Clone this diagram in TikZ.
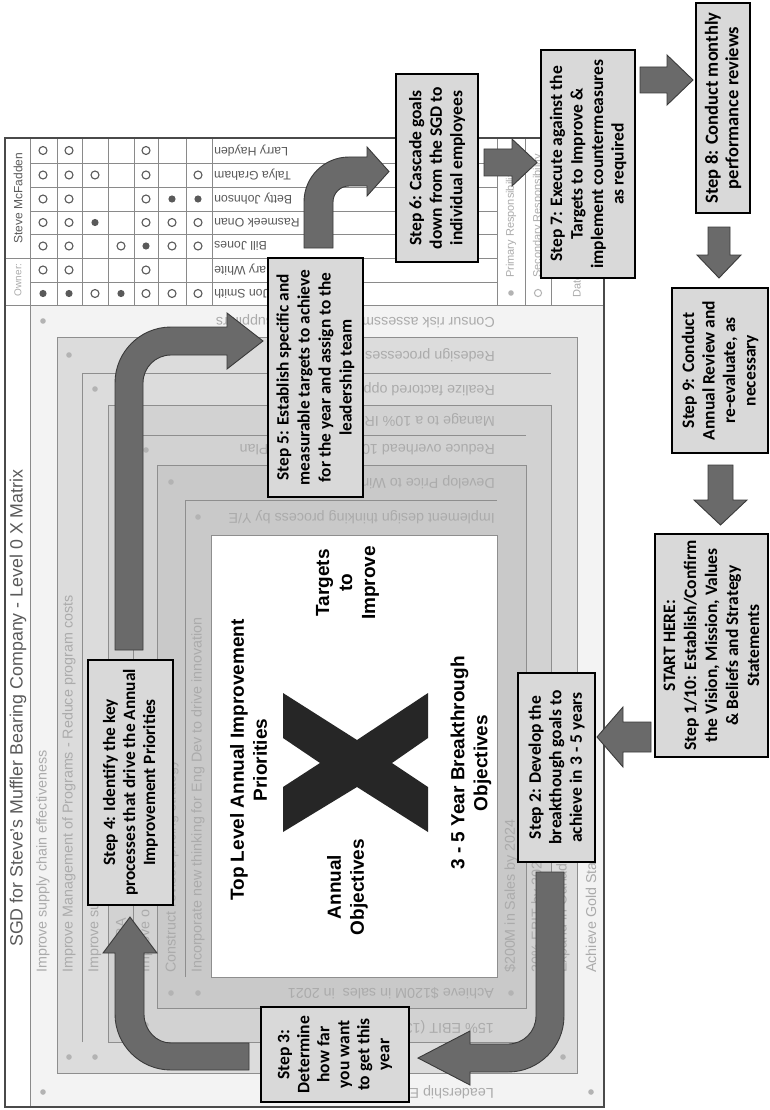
\documentclass[tikz,border=0pt]{standalone}
\usepackage{fontspec}
\setmainfont{Liberation Sans}
\newfontfamily\stepfont{Carlito}
\definecolor{bandO}{HTML}{F3F3F3}
\definecolor{bandA}{HTML}{DCDCDC}
\definecolor{bandB}{HTML}{D2D2D2}
\definecolor{bandC}{HTML}{C9C9C9}
\definecolor{bandline}{HTML}{8E8E8E}
\definecolor{gridline}{HTML}{8A8A8A}
\definecolor{framec}{HTML}{4A4A4A}
\definecolor{itemgray}{HTML}{ABABAB}
\definecolor{dotgray}{HTML}{B3B3B3}
\definecolor{namegray}{HTML}{5A5A5A}
\definecolor{stepfill}{HTML}{D9D9D9}
\definecolor{arrowfill}{HTML}{6A6A6A}
\definecolor{arrowline}{HTML}{3A3A3A}
\definecolor{xmark}{HTML}{262626}
\begin{document}
\begin{tikzpicture}[x=1pt,y=-1pt,
  stepbox/.style={draw=black, line width=1.5pt, fill=stepfill, rotate=90, align=center, inner sep=0pt,
    font=\stepfont\bfseries\fontsize{17.5}{20.5}\selectfont},
  blockarrow/.style={fill=arrowfill, draw=arrowline, line width=0.9pt, line join=miter},
  itemtext/.style={text=itemgray, inner sep=0pt, font=\fontsize{14.3}{16}\selectfont},
  upitem/.style={itemtext, rotate=90, anchor=west},
  flipitem/.style={itemtext, rotate=180, anchor=west},
  namelabel/.style={text=namegray, inner sep=0pt, rotate=180, anchor=east, font=\fontsize{12.3}{14}\selectfont},
  gdot/.style={fill=dotgray},
  opendot/.style={draw=namegray, line width=1.1pt, fill=white},
  fulldot/.style={fill=namegray},
  band/.style={draw=bandline, line width=0.8pt},
  sepline/.style={draw=bandline, line width=0.8pt},
  gridln/.style={draw=gridline, line width=0.8pt},
  centerlabel/.style={rotate=90, align=center, inner sep=0pt, font=\bfseries\fontsize{19}{23}\selectfont}
]
\useasboundingbox (0,0) rectangle (769,1110);
\fill[white] (0,0) rectangle (769,1110);

% ---------- nested bands of the X matrix ----------
\fill[bandO] (30,305) rectangle (604,1107);
\filldraw[band, fill=bandA] (57,337) rectangle (577,1073);
\filldraw[band, fill=bandB] (108,405) rectangle (551,1042);
\filldraw[band, fill=bandC] (157,465) rectangle (526,1008);
\filldraw[band, fill=white] (211,535) rectangle (497,977);
\draw[sepline] (82,1042) -- (82,373) -- (551,373);
\draw[sepline] (133,1008) -- (133,435) -- (526,435);
\draw[sepline] (185,977) -- (185,500) -- (497,500);

% bullets of the list rows
\foreach \x/\y in {43/321,69/355,95/389,121/420,146/450,171/482,198/517,
                   43/1092,69/1057,95/1057,121/1025,146/1025,171/993,198/993,
                   511/993,538/1025,563/1057,591/1092}
  \fill[gdot] (\x,\y) circle (2.8pt);

% left lists (annual improvement priorities)
\node[upitem] (l1) at (43,973) {Improve supply chain effectiveness};
\node[upitem] (l2) at (69,973) {Improve Management of Programs - Reduce program costs};
\node[upitem] (l3) at (95,973) {Improve su};
\node[itemtext, rotate=90, anchor=east] (l4) at (121,918) {IRA};
\node[upitem] (l5) at (146,973) {Improve o};
\node[upitem] (l6) at (172,973) {Construct revised pricing strategy};
\node[upitem] (l7) at (198,973) {Incorporate new thinking for Eng Dev to drive innovation};

% top lists (targets to improve)
\node[flipitem] (t1) at (495,321) {Consur risk assessment for critical suppliers};
\node[flipitem] (t2) at (495,355) {Redesign processes};
\node[flipitem] (t3) at (495,389) {Realize factored opportunities};
\node[flipitem] (t4) at (495,420) {Manage to a 10\% IRA};
\node[flipitem] (t5) at (495,450) {Reduce overhead 10\% to Financial Plan};
\node[flipitem] (t6) at (495,482) {Develop Price to Win};
\node[flipitem] (t7) at (495,517) {Implement design thinking process by Y/E};

% bottom lists (annual objectives)
\node[flipitem] (b1) at (494,993) {Achieve \$120M in sales\ \ in 2021};
\node[flipitem] (b2) at (494,1027) {15\% EBIT (13};
\node[flipitem] (b4) at (494,1092) {Leadership E};

% right lists (breakthrough objectives)
\node[upitem] (r1) at (511,973) {\$200M in Sales by 2024};
\node[upitem] (r2) at (538,973) {20\% EBIT by 2024};
\node[upitem] (r3) at (563,973) {Expand in Canada};
\node[upitem] (r4) at (591,973) {Achieve Gold Sta};

% ---------- responsibility table ----------
\draw[gridln] (30,138) -- (30,1107);
\foreach \x in {57,82,108,134,158,186,212,497,525,551} \draw[gridln] (\x,138) -- (\x,305);
\foreach \y in {163,187,211,234,258,282} \draw[gridln] (30,\y) -- (497,\y);
\draw[gridln] (5,258) -- (30,258);
\draw[gridln] (5,305) -- (604,305);

\node[namelabel] (n1) at (214,150.5) {Larry Hayden};
\node[namelabel] (n2) at (214,175) {Talya Graham};
\node[namelabel] (n3) at (214,199) {Betty Johnson};
\node[namelabel] (n4) at (214,222.5) {Rasmeek Onan};
\node[namelabel] (n5) at (214,246) {Bill Jones};
\node[namelabel] (n6) at (214,270) {Mary White};
\node[namelabel] (n7) at (214,293.5) {Jon Smith};

\foreach \x/\y in {43/150.5,69/150.5,146/150.5,
                   43/175,69/175,95/175,146/175,198/175,
                   43/199,69/199,146/199,
                   43/222.5,69/222.5,146/222.5,172/222.5,198/222.5,
                   43/246,69/246,121/246,172/246,198/246,
                   43/270,69/270,146/270,
                   95/293.5,146/293.5,172/293.5,198/293.5}
  \filldraw[opendot] (\x,\y) circle (4pt);
\foreach \x/\y in {172/199,198/199,95/222.5,146/246,43/293.5,69/293.5,121/293.5}
  \fill[fulldot] (\x,\y) circle (3.6pt);

% legend column
\fill[dotgray] (511,293) circle (2.8pt);
\draw[dotgray, line width=1pt] (538,293) circle (3.6pt);
\node[itemtext, rotate=90, anchor=west, font=\fontsize{11}{13}\selectfont] (lg1) at (511,278) {Primary Responsibility};
\node[itemtext, rotate=90, anchor=west, font=\fontsize{11}{13}\selectfont] (lg2) at (538,278) {Secondary Responsibility};
\node[itemtext, rotate=90, anchor=west, font=\fontsize{11}{13}\selectfont] (lg3) at (577,298) {Date:};

% owner column and title
\node[rotate=90, inner sep=0pt, text=namegray, font=\fontsize{12}{14}\selectfont] (own) at (18,198) {Steve McFadden};
\node[rotate=90, inner sep=0pt, text=itemgray, font=\fontsize{10}{12}\selectfont] (ownl) at (18,280) {Owner:};
\node[rotate=90, anchor=west, inner sep=0pt, text=namegray, font=\fontsize{17.8}{20}\selectfont] (title) at (18,947)
  {SGD for Steve's Muffler Bearing Company - Level 0 X Matrix};

\draw[framec, line width=1.2pt] (5,138) rectangle (604,1107);

% ---------- centre of the matrix ----------
\fill[xmark] (283,693) -- (357,740) -- (428,693) -- (428,738) -- (392,763) -- (428,787)
  -- (428,832) -- (357,787) -- (283,832) -- (283,787) -- (320,763) -- (283,738) -- cycle;
\node[centerlabel] (cTop) at (248.5,760) {Top Level Annual Improvement\\Priorities};
\node[centerlabel] (cTgt) at (347.5,583) {Targets\\to\\Improve};
\node[centerlabel] (cAnn) at (347.5,887) {Annual\\Objectives};
\node[centerlabel] (cBrk) at (471,763) {3 - 5 Year Breakthrough\\Objectives};

% ---------- block arrows ----------
% step 4 -> step 5
\path[blockarrow] (143,650) -- (115,650) -- (115,383) .. controls (115,352.1) and (140.1,327) .. (171,327)
  -- (227,327) -- (227,313) -- (263,341) -- (227,369) -- (227,355) -- (171,355)
  .. controls (155.5,355) and (143,367.5) .. (143,383) -- cycle;
% step 5 -> step 6
\path[blockarrow] (333,248) -- (304,248) -- (304,202) .. controls (304,177.1) and (324.1,157) .. (349,157)
  -- (367,157) -- (367,147) -- (389,171.5) -- (367,196) -- (367,186) -- (349,186)
  .. controls (340.2,186) and (333,193.2) .. (333,202) -- cycle;
% step 3 -> step 4
\path[blockarrow] (249,1043) -- (249,1070) -- (171,1070) .. controls (140.1,1070) and (115,1044.9) .. (115,1014)
  -- (115,953) -- (103,953) -- (130,917) -- (157,953) -- (144,953) -- (144,1014)
  .. controls (144,1030) and (156.1,1043) .. (171,1043) -- cycle;
% step 2 -> step 3
\path[blockarrow] (536,872) -- (564,872) -- (564,1016) .. controls (564,1046.9) and (538.9,1072) .. (508,1072)
  -- (470,1072) -- (470,1085) -- (418,1058) -- (470,1031) -- (470,1044) -- (508,1044)
  .. controls (523.5,1044) and (536,1031.5) .. (536,1016) -- cycle;
% straight arrows
\path[blockarrow] (484,149) -- (512,149) -- (512,139) -- (537,162.5) -- (512,186) -- (512,176) -- (484,176) -- cycle;
\path[blockarrow] (640,67) -- (667,67) -- (667,55) -- (693,80) -- (667,105) -- (667,93) -- (640,93) -- cycle;
\path[blockarrow] (708,227) -- (730,227) -- (730,255) -- (741,255) -- (719,278) -- (697,255) -- (708,255) -- cycle;
\path[blockarrow] (708,465) -- (733,465) -- (733,500) -- (747,500) -- (720.5,525) -- (694,500) -- (708,500) -- cycle;
\path[blockarrow] (651,722) -- (623,722) -- (623,707) -- (597,737) -- (623,767) -- (623,752) -- (651,752) -- cycle;

% ---------- step boxes ----------
\node[stepbox, minimum width=223pt, minimum height=113pt, font=\stepfont\bfseries\fontsize{17.5}{21}\selectfont] (s1) at (711.5,645.5)
  {START HERE:\\Step 1/10: Establish/Confirm\\the Vision, Mission, Values\\\& Beliefs and Strategy\\Statements};
\node[stepbox, minimum width=189pt, minimum height=77pt] (s2) at (556.5,767.5)
  {Step 2: Develop the\\breakthough goals to\\achieve in 3 - 5 years};
\node[stepbox, minimum width=95pt, minimum height=148pt, font=\stepfont\bfseries\fontsize{17.5}{20}\selectfont] (s3) at (335,1054.5)
  {Step 3:\\Determine\\how far\\you want\\to get this\\year};
\node[stepbox, minimum width=245pt, minimum height=85pt, font=\stepfont\bfseries\fontsize{17.3}{20}\selectfont] (s4) at (130.5,782.5)
  {Step 4: Identify the key\\processes that drive the Annual\\Improvement Priorities};
\node[stepbox, minimum width=239pt, minimum height=95pt, font=\stepfont\bfseries\fontsize{17.3}{21}\selectfont] (s5) at (315.5,377.5)
  {Step 5: Establish specific and\\measurable targets to achieve\\for the year and assign to the\\leadership team};
\node[stepbox, minimum width=188pt, minimum height=82pt] (s6) at (437,168)
  {Step 6: Cascade goals\\down from the SGD to\\individual employees};
\node[stepbox, minimum width=228pt, minimum height=94pt] (s7) at (588,164)
  {Step 7: Execute against the\\Targets to Improve \&\\implement countermeasures\\as required};
\node[stepbox, minimum width=210pt, minimum height=54pt, font=\stepfont\bfseries\fontsize{18.5}{20.5}\selectfont] (s8) at (723,108)
  {Step 8: Conduct monthly\\performance reviews};
\node[stepbox, minimum width=165pt, minimum height=96pt] (s9) at (720,370.5)
  {Step 9: Conduct\\Annual Review and\\re-evaluate, as\\necessary};
\end{tikzpicture}
\end{document}
